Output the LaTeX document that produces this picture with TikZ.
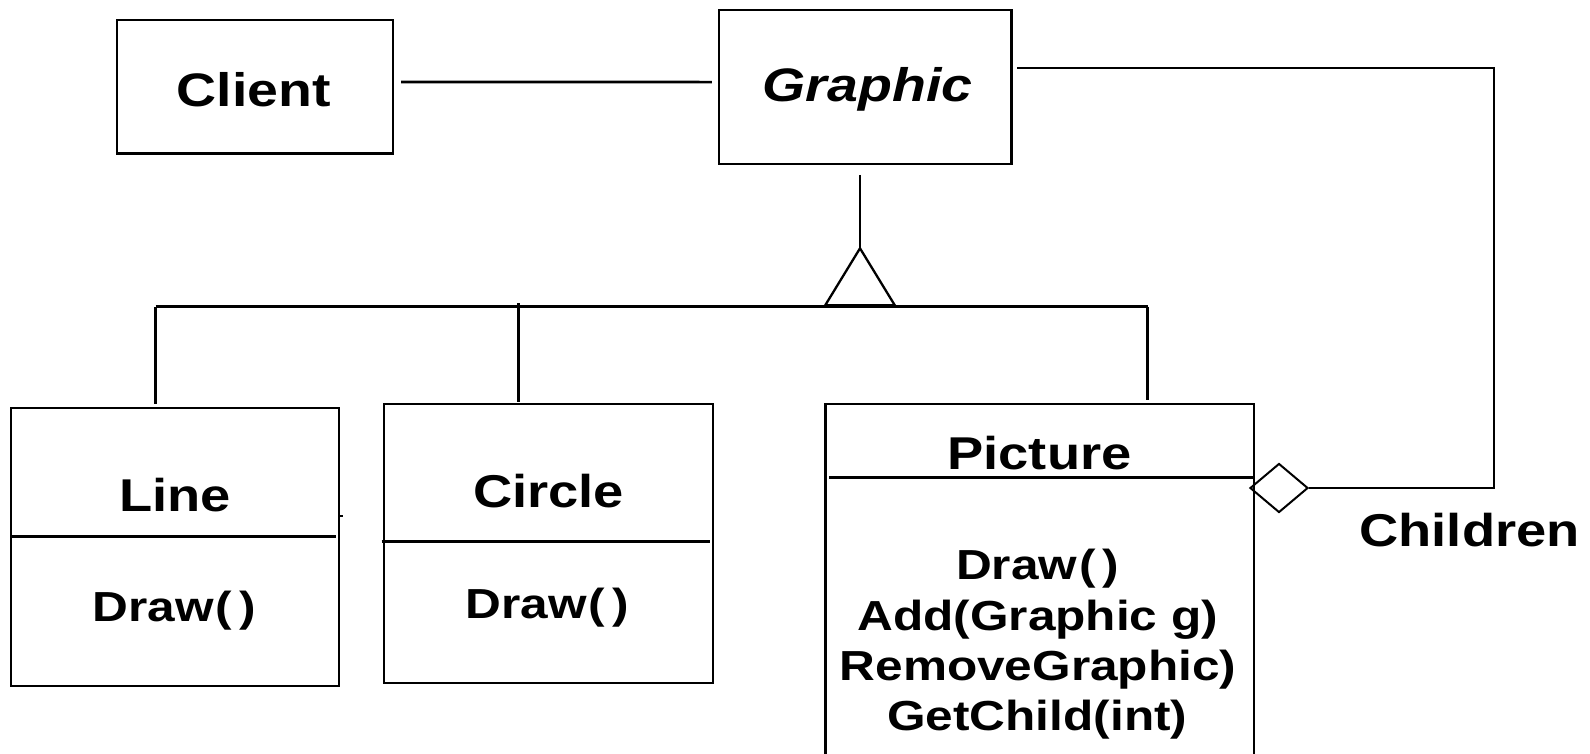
\documentclass[tikz,border=0pt]{standalone}
\usepackage{fontspec}
\setmainfont{Liberation Sans}[FakeStretch=1.18]
\usetikzlibrary{calc,shapes.geometric}
\begin{document}
\begin{tikzpicture}[x=1pt,y=-1pt,
  box/.style={draw,line width=2.3pt,inner sep=0pt},
  sepline/.style={line width=2.7pt},
  conn/.style={line width=2.7pt},
  lbl/.style={inner sep=0pt,anchor=base,font=\fontsize{46}{46}\selectfont\bfseries},
  biglbl/.style={inner sep=0pt,anchor=base,font=\fontsize{47}{47}\selectfont\bfseries},
  meth/.style={inner sep=0pt,anchor=base,font=\fontsize{42}{42}\selectfont\bfseries}]
\fill[white] (0,0) rectangle (1590,753);
\useasboundingbox (0,0) rectangle (1590,753);
\clip (0,0) rectangle (1590,753);

% classes
\node[box,minimum width=275.6pt,minimum height=133.3pt] (client) at (255.1,86.7) {};
\node[biglbl] (clienttxt) at (253.8,106) {Client};

\node[box,minimum width=292.4pt,minimum height=154pt] (graphic) at (865.2,86.7) {};
\node[biglbl,font=\fontsize{47}{47}\selectfont\bfseries\itshape] (graphictxt) at (867.5,101.7) {Graphic};

\node[box,minimum width=328.1pt,minimum height=277.7pt] (line) at (175.25,547.15) {};
\draw[sepline] (11.2,536.7) -- (335.7,536.7);
\node[lbl] (linetxt) at (175.3,511.7) {Line};
\node[meth] (linedraw) at (174,621.7) {Draw\kern2pt(\kern7pt)};
\draw[line width=2pt] (339,516) -- (343,516);

\node[box,minimum width=328.6pt,minimum height=278.4pt] (circle) at (548.5,543.5) {};
\draw[sepline] (381.6,541.3) -- (710,541.3);
\node[lbl] (circletxt) at (548.5,507.7) {Circle};
\node[meth] (circledraw) at (547.2,618.3) {Draw\kern2pt(\kern7pt)};

\node[box,minimum width=428.2pt,minimum height=356pt] (picture) at (1039.6,582) {};
\draw[sepline] (829,477.3) -- (1253.7,477.3);
\node[lbl] (picturetxt) at (1039.5,469) {Picture};
\node[meth] (m1) at (1037.7,579) {Draw\kern2pt(\kern7pt)};
\node[meth] (m2) at (1037.7,630) {Add(Graphic g)};
\node[meth] (m3) at (1038,680) {RemoveGraphic)};
\node[meth] (m4) at (1037.3,730) {GetChild(int)};

% association Client -- Graphic
\draw[conn] ($(client.east)+(7,-4.7)$) -- ($(graphic.west)+(-6,-4.6)$);

% aggregation Picture <>-- Graphic
\node[draw,diamond,aspect=1.18,line width=2pt,minimum width=58pt,minimum height=49pt,inner sep=0pt] (agg) at (1279,488) {};
\draw[conn] (agg.east) -| ($(graphic.east)+(481.4,-18.6)$) -- ($(graphic.east)+(4.6,-18.6)$);
\node[lbl] (children) at (1469.6,546.7) {Children};

% inheritance
\coordinate (apex) at (860,248.3);
\draw[conn] ($(graphic.south)+(-5.2,10)$) -- (apex);
\draw[line width=2.3pt,line join=miter] (apex) -- ++(-34.8,57) -- ++(69.6,0) -- cycle;
\coordinate (barL) at (155.6,306.5);
\coordinate (barR) at (1147.8,306.5);
\draw[conn] (barL) -- (barR);
\draw[conn] (barL) -- ($(barL |- line.north)+(0,-3)$);
\draw[conn] ($(circle.north)+(-30.1,-100)$) -- ($(circle.north)+(-30.1,-1)$);
\draw[conn] (barR) -- ($(barR |- picture.north)+(0,-3)$);
\end{tikzpicture}
\end{document}
